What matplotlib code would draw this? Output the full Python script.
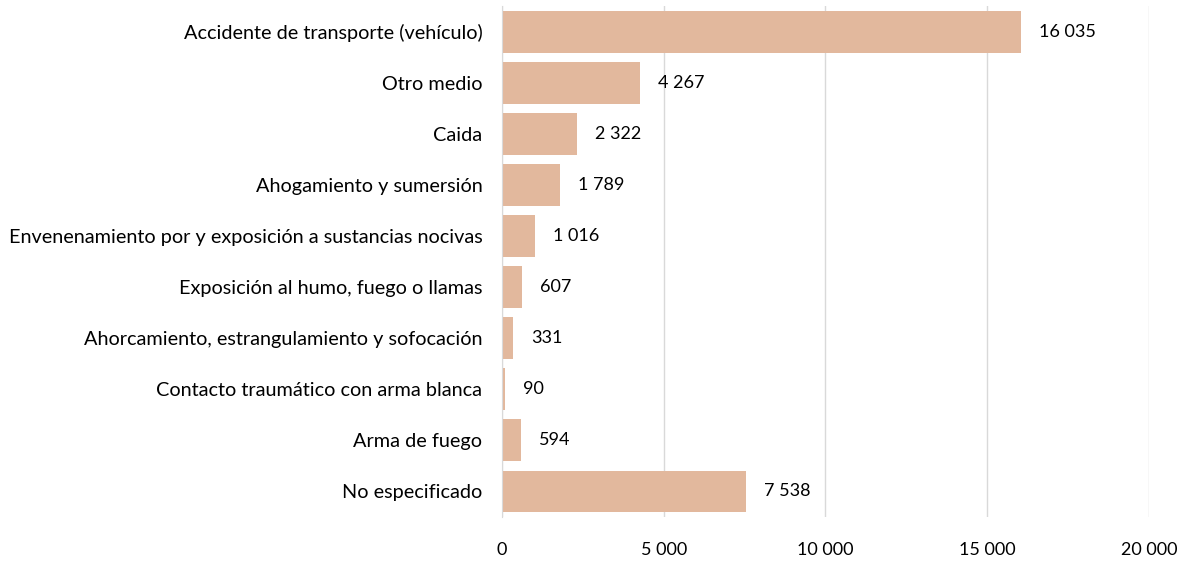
import numpy as np
import matplotlib
matplotlib.use('Agg')
import matplotlib.pyplot as plt
from matplotlib.ticker import FuncFormatter

plt.rcParams.update({'font.family': ['Lato', 'DejaVu Sans'], 'font.size': 13})

BAR = '#E2B89D'
GRID = '#D9D9D9'

causes = ['Accidente de transporte (vehículo)', 'Otro medio', 'Caida',
          'Ahogamiento y sumersión',
          'Envenenamiento por y exposición a sustancias nocivas',
          'Exposición al humo, fuego o llamas',
          'Ahorcamiento, estrangulamiento y sofocación',
          'Contacto traumático con arma blanca', 'Arma de fuego',
          'No especificado']
deaths = [16035, 4267, 2322, 1789, 1016, 607, 331, 90, 594, 7538]


def fmt(v):
    # thousands separated by a space
    return f'{int(v):,}'.replace(',', ' ')


fig = plt.figure(figsize=(11.9, 5.61), dpi=100)
ax = fig.add_axes([0.4218, 0.0784, 0.5437, 0.9109])

y = np.arange(len(causes))
ax.barh(y, deaths, height=0.82, color=BAR, zorder=2)
for yi, v in zip(y, deaths):
    ax.annotate(fmt(v), xy=(v, yi), xytext=(13, 0), textcoords='offset points',
                va='center', ha='left', fontsize=13)

ax.set_ylim(len(causes) - 0.5, -0.5)
ax.set_xlim(0, 20000)
ax.set_xticks(range(0, 20001, 5000))
ax.xaxis.set_major_formatter(FuncFormatter(lambda v, p: fmt(v)))
ax.set_yticks(y)
ax.set_yticklabels(causes, fontsize=14.3)
ax.tick_params(axis='both', length=0)
ax.tick_params(axis='x', pad=18)
ax.tick_params(axis='y', pad=14)
ax.grid(axis='x', color=GRID, lw=1, zorder=0)
for s in ['top', 'right', 'bottom']:
    ax.spines[s].set_visible(False)
ax.spines['left'].set_color(GRID)

plt.savefig('out.png', dpi=100)
plt.close()
